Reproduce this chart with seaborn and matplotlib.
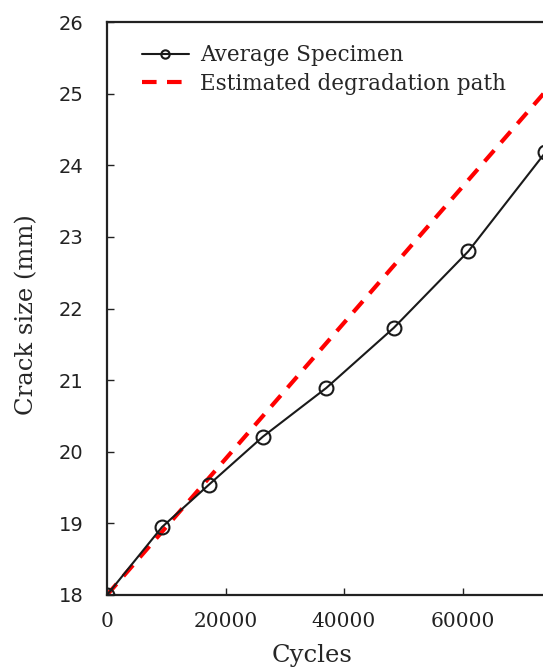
import matplotlib
matplotlib.use("Agg")
import matplotlib.pyplot as plt
import seaborn as sns
import pandas as pd

# --- data ---
cycles = [0, 9300, 17200, 26300, 37000, 48400, 61000, 74000]
crack_size = [18.00, 18.95, 19.54, 20.21, 20.89, 21.73, 22.80, 24.18]

est_cycles = [0, 80000]
est_crack = [18.0, 25.6]

x_ticks = [0, 20000, 40000, 60000]
y_ticks = [18, 19, 20, 21, 22, 23, 24, 25, 26]

sns.set_theme(style="white")
plt.rcParams["font.family"] = ["DejaVu Serif"]

fig = plt.figure(figsize=(5.43, 6.71), dpi=100)
# axes run past the right edge of the figure, as in the cropped original
ax = fig.add_axes([107 / 543, 76 / 671, 474 / 543, 573 / 671])

avg = pd.DataFrame({"Cycles": cycles, "Crack": crack_size})
est = pd.DataFrame({"Cycles": est_cycles, "Crack": est_crack})

sns.lineplot(data=est, x="Cycles", y="Crack", ax=ax, color="#ff0000",
             linewidth=3, linestyle=(0, (3.5, 2.5)),
             label="Estimated degradation path", zorder=2)
sns.lineplot(data=avg, x="Cycles", y="Crack", ax=ax, color="#1a1a1a",
             linewidth=1.5, marker="o", markersize=10,
             markerfacecolor="none", markeredgecolor="#1a1a1a",
             markeredgewidth=1.5, label="Average Specimen", zorder=3)

ax.set_xlim(0, 80000)
ax.set_ylim(18, 26)
ax.set_xticks(x_ticks)
ax.set_yticks(y_ticks)
ax.set_xticklabels([str(t) for t in x_ticks], fontsize=14.5)
ax.set_yticklabels([str(t) for t in y_ticks], fontsize=14,
                   family=["DejaVu Sans"])
ax.tick_params(axis="both", direction="in", length=5, width=1,
               colors="#222222", bottom=True, left=True)
ax.tick_params(axis="x", pad=12)
ax.tick_params(axis="y", pad=17)
for side in ["top", "bottom", "left", "right"]:
    ax.spines[side].set_color("#222222")
    ax.spines[side].set_linewidth(1.6)

ax.set_xlabel("Cycles", fontsize=17.5)
ax.set_ylabel("Crack size (mm)", fontsize=17.5)
ax.xaxis.set_label_coords(0.432, -0.085)
ax.yaxis.set_label_coords(-0.145, 0.49)

handles, labels = ax.get_legend_handles_labels()
leg = ax.legend(handles[::-1], labels[::-1], loc="upper left",
                bbox_to_anchor=(0.032, 0.995), frameon=False, fontsize=15.5,
                handlelength=2.2, labelspacing=0.3, handletextpad=0.5)
for h in leg.legend_handles:
    if h.get_marker() == "o":
        h.set_markersize(6)

fig.savefig("out.png", dpi=100)
